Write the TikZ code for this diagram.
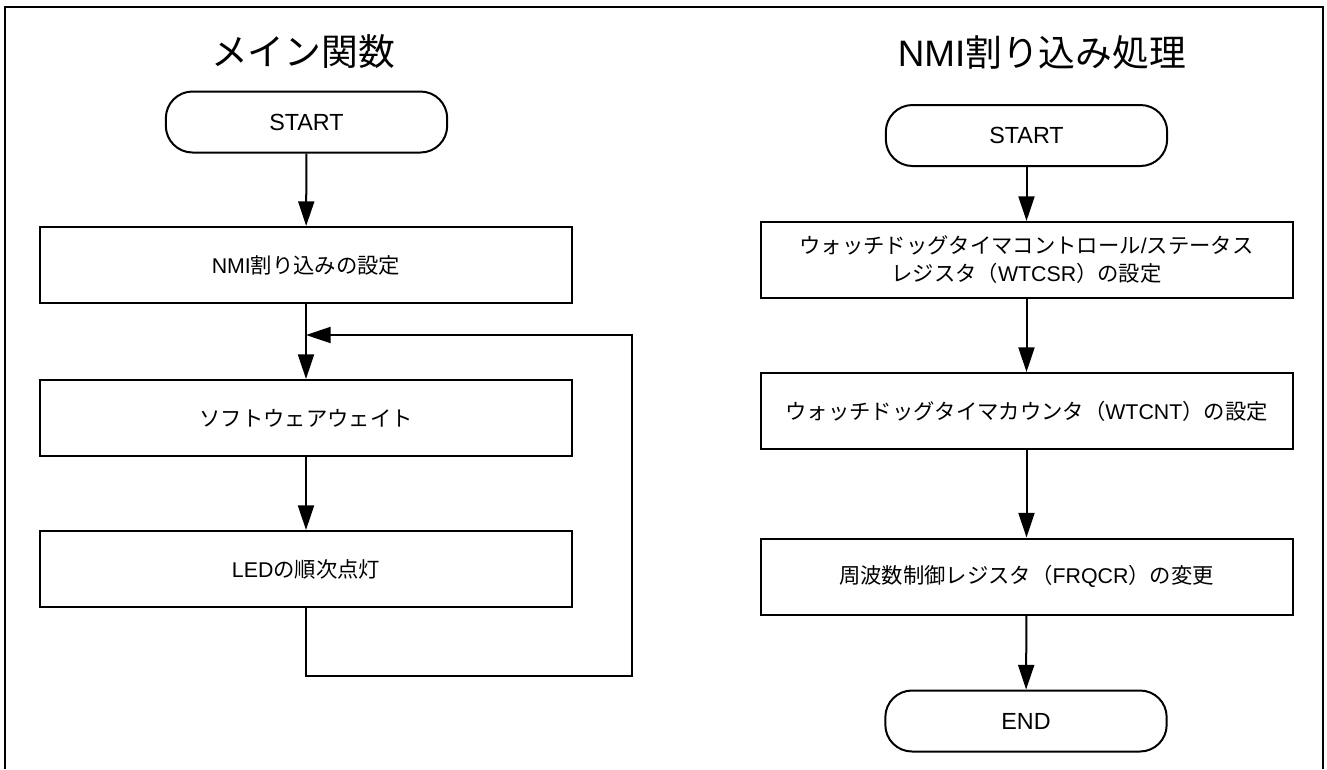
\documentclass[tikz,border=0pt]{standalone}
\usepackage{fontspec}
\setmainfont{Liberation Sans}
\newfontfamily\jp{Noto Sans CJK JP}
\usetikzlibrary{arrows.meta}
\begin{document}
\begin{tikzpicture}[x=0.75pt,y=-0.75pt,
  line width=1.5pt,
  flow/.style={-{Triangle[length=18.5pt,width=12pt]}},
  proc/.style={draw, rectangle, minimum width=399pt, minimum height=57pt, inner sep=0pt, align=center,
    font=\fontsize{16pt}{21pt}\selectfont},
  term/.style={draw, rectangle, rounded corners=20pt, minimum width=211pt, minimum height=45.75pt, inner sep=0pt,
    font=\fontsize{17.5pt}{21pt}\selectfont},
  ttl/.style={inner sep=0pt, font=\fontsize{27.6pt}{33pt}\selectfont}]
\useasboundingbox (0,0) rectangle (1327,769);
% frame
\draw[line width=1.6pt] (5,769) -- (5,7) -- (1323,7) -- (1323,769);
% left column
\node[ttl] (t1) at (303,52) {\jp メイン関数};
\node[term] (s1) at (306.5,122) {START};
\node[proc] (b1) at (306,265) {NMI{\jp 割り込みの設定}};
\node[proc] (b2) at (306,418) {{\jp ソフトウェアウェイト}};
\node[proc] (b3) at (306,569) {LED{\jp の順次点灯}};
\coordinate (lr) at (632,676);
\coordinate (lt) at (632,335);
\coordinate (lj) at (306,335);
\draw[flow] (s1) -- (b1);
\draw[flow] (b1) -- (b2);
\draw[flow] (b2) -- (b3);
\draw[flow] (b3.south) |- (lr) -- (lt) -- (lj);
% right column
\node[ttl] (t2) at (1042,53) {NMI{\jp 割り込み処理}};
\node[term] (s2) at (1026.5,135.5) {START};
\node[proc] (r1) at (1026.5,260) {{\jp ウォッチドッグタイマコントロール}/{\jp ステータス}\\{\jp レジスタ（}WTCSR{\jp ）の設定}};
\node[proc] (r2) at (1026.5,411) {{\jp ウォッチドッグタイマカウンタ（}WTCNT{\jp ）の設定}};
\node[proc] (r3) at (1026.5,576.5) {{\jp 周波数制御レジスタ（}FRQCR{\jp ）の変更}};
\node[term] (e2) at (1026,721) {END};
\draw[flow] (s2) -- (r1);
\draw[flow] (r1) -- (r2);
\draw[flow] (r2) -- (r3);
\draw[flow] (r3) -- (e2);
\end{tikzpicture}
\end{document}
